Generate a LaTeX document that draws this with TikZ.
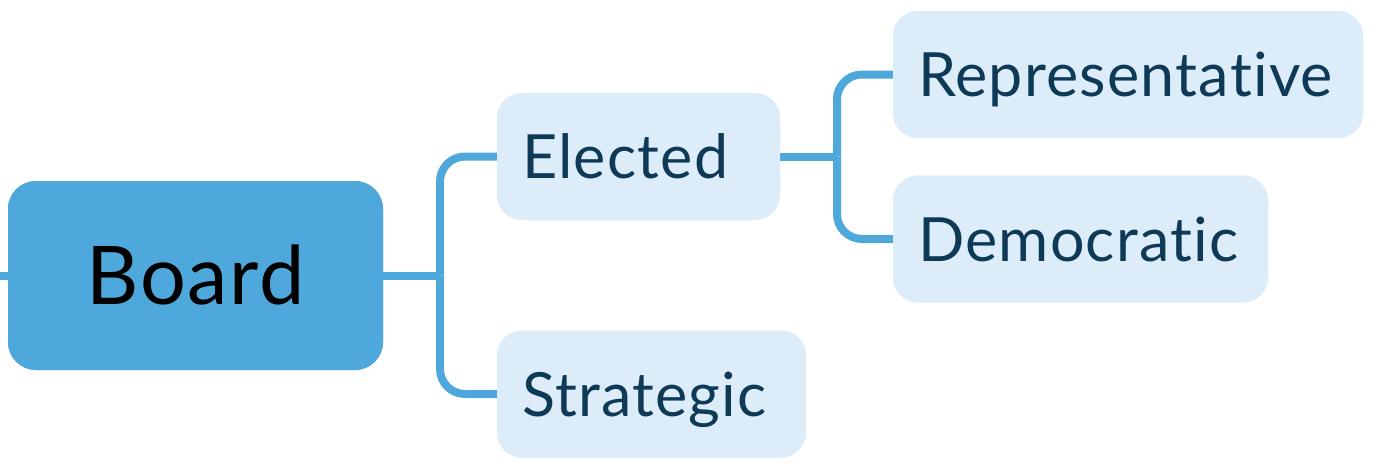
\documentclass[tikz,border=0pt]{standalone}
\usepackage{fontspec}
\setmainfont{Lato}[Ligatures={NoCommon,NoRequired,NoContextual}, LetterSpace=2]
\definecolor{mainblue}{HTML}{4FA8DC}
\definecolor{lightbox}{HTML}{DCEDF9}
\definecolor{navy}{HTML}{0F3A57}
\tikzset{
  conn/.style={draw=mainblue, line width=8pt, rounded corners=25pt},
  rootbox/.style={fill=mainblue, rounded corners=28pt, text=black,
    font=\fontsize{81}{81}\selectfont, inner sep=0pt,
    minimum width=375pt, minimum height=189pt, text height=58pt, text depth=0pt},
  childbox/.style={fill=lightbox, rounded corners=25pt, text=navy,
    font=\fontsize{61}{61}\selectfont, inner xsep=25pt, inner ysep=0pt,
    minimum height=127pt, text height=44pt, text depth=0pt, align=left},
}
\begin{document}
\begin{tikzpicture}[x=1pt,y=-1pt]
\useasboundingbox (0,0) rectangle (1374,474);
\coordinate (stub) at (0,275.5);
\coordinate (j1) at (440,275.5);
\coordinate (j2) at (837,156.5);
\node[rootbox] (board) at (195.5,275.5) {};
\node[childbox, text width=233pt] (elected) at (638.5,156.5) {};
\node[childbox, text width=259pt] (strategic) at (651.5,394) {};
\node[childbox, text width=420pt] (repr) at (1128,74.5) {};
\node[childbox, text width=325pt] (demo) at (1080.5,239) {};
\draw[conn] (stub) -- (board.west);
\draw[conn] (board.east) -- (j1);
\draw[conn] (elected.west) -| (j1);
\draw[conn] (strategic.west) -| (j1);
\draw[conn] (elected.east) -- (j2);
\draw[conn] (repr.west) -| (j2);
\draw[conn] (demo.west) -| (j2);
\node[rootbox] at (board) {Board};
\node[childbox, text width=233pt] at (elected) {Elected};
\node[childbox, text width=259pt] at (strategic) {Strategic};
\node[childbox, text width=420pt] at (repr) {Representative};
\node[childbox, text width=325pt] at (demo) {Democratic};
\end{tikzpicture}
\end{document}
